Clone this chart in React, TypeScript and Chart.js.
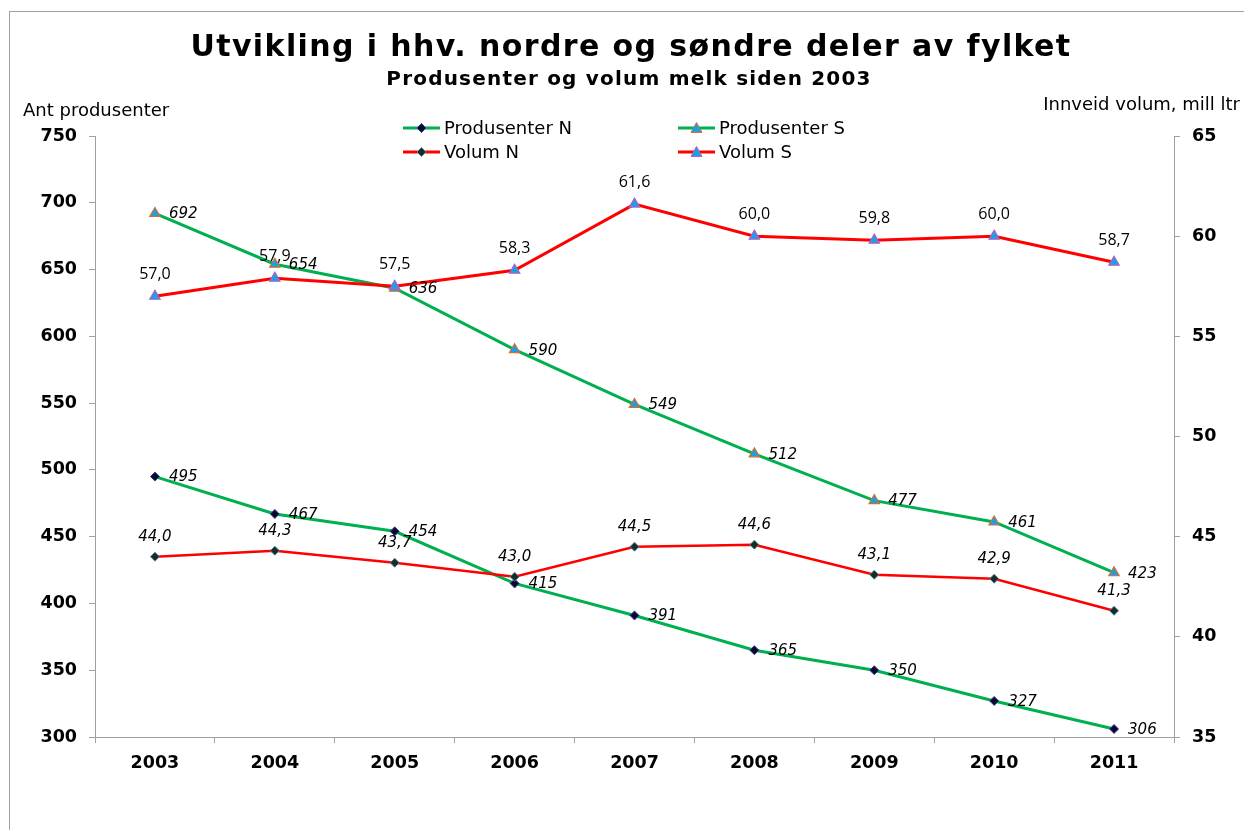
import React, { useEffect, useRef } from "react";
import { Chart, registerables } from "chart.js";

Chart.register(...registerables);

const years = ["2003", "2004", "2005", "2006", "2007", "2008", "2009", "2010", "2011"];
const produsenterN = [495, 467, 454, 415, 391, 365, 350, 327, 306];
const produsenterS = [692, 654, 636, 590, 549, 512, 477, 461, 423];
const volumN = [44.0, 44.3, 43.7, 43.0, 44.5, 44.6, 43.1, 42.9, 41.3];
const volumS = [57.0, 57.9, 57.5, 58.3, 61.6, 60.0, 59.8, 60.0, 58.7];

const TITLE = "Utvikling i hhv. nordre og søndre deler av fylket";
const SUBTITLE = "Produsenter og volum melk siden 2003";
const LEFT_TITLE = "Ant produsenter";
const RIGHT_TITLE = "Innveid volum, mill ltr";

const GREEN = "#00b050";
const RED = "#ff0000";

type Legend = { label: string; color: string; marker: "diamond" | "triangle"; fill: string; border: string };
const legendItems: Legend[] = [
  { label: "Produsenter N", color: GREEN, marker: "diamond", fill: "#08082a", border: "#3a3a9a" },
  { label: "Produsenter S", color: GREEN, marker: "triangle", fill: "#1aa0e8", border: "#d07030" },
  { label: "Volum N", color: RED, marker: "diamond", fill: "#1a2a2a", border: "#4a8a9a" },
  { label: "Volum S", color: RED, marker: "triangle", fill: "#1aa0e8", border: "#b060c0" },
];

const fmt1 = (v: number) => v.toFixed(1).replace(".", ",");

function drawMarker(ctx: CanvasRenderingContext2D, kind: string, x: number, y: number, fill: string, border: string) {
  ctx.beginPath();
  if (kind === "diamond") {
    const r = 4.5;
    ctx.moveTo(x, y - r);
    ctx.lineTo(x + r, y);
    ctx.lineTo(x, y + r);
    ctx.lineTo(x - r, y);
  } else {
    const r = 5.5;
    ctx.moveTo(x, y - r);
    ctx.lineTo(x + r, y + r * 0.8);
    ctx.lineTo(x - r, y + r * 0.8);
  }
  ctx.closePath();
  ctx.fillStyle = fill;
  ctx.fill();
  ctx.lineWidth = 1;
  ctx.strokeStyle = border;
  ctx.stroke();
}

const textPlugin = {
  id: "textPlugin",
  afterDatasetsDraw(chart: any) {
    const ctx: CanvasRenderingContext2D = chart.ctx;
    ctx.save();
    ctx.fillStyle = "#000";
    chart.data.datasets.forEach((ds: any, i: number) => {
      const meta = chart.getDatasetMeta(i);
      meta.data.forEach((pt: any, j: number) => {
        const v = ds.data[j];
        if (ds.labelMode === "right") {
          ctx.font = 'italic 15px "DejaVu Sans"';
          ctx.textAlign = "left";
          ctx.textBaseline = "middle";
          ctx.fillText(String(v), pt.x + 14, pt.y + 1);
        } else if (ds.labelMode === "aboveItalic") {
          ctx.font = 'italic 15px "DejaVu Sans"';
          ctx.textAlign = "center";
          ctx.textBaseline = "middle";
          ctx.fillText(fmt1(v), pt.x, pt.y - 20);
        } else {
          ctx.font = '16px "Open Sans"';
          ctx.textAlign = "center";
          ctx.textBaseline = "middle";
          ctx.fillText(fmt1(v), pt.x, pt.y - 22);
        }
      });
    });
    ctx.restore();
  },
  afterDraw(chart: any) {
    const ctx: any = chart.ctx;
    ctx.save();
    ctx.fillStyle = "#000";
    ctx.textBaseline = "middle";
    ctx.textAlign = "center";
    ctx.font = 'bold 30px "DejaVu Sans"';
    ctx.letterSpacing = "1.4px";
    ctx.fillText(TITLE, 631, 48);
    ctx.font = 'bold 20px "DejaVu Sans"';
    ctx.letterSpacing = "1.2px";
    ctx.fillText(SUBTITLE, 629, 80);
    ctx.letterSpacing = "0px";
    ctx.font = '18px "DejaVu Sans"';
    ctx.textAlign = "left";
    ctx.fillText(LEFT_TITLE, 23, 111);
    ctx.textAlign = "right";
    ctx.fillText(RIGHT_TITLE, 1240, 105);

    // legend (2 columns x 2 rows)
    const colX = [403, 678];
    const rowY = [128, 152];
    legendItems.forEach((it, idx) => {
      const x0 = colX[idx % 2];
      const y = rowY[Math.floor(idx / 2)];
      ctx.beginPath();
      ctx.moveTo(x0, y);
      ctx.lineTo(x0 + 37, y);
      ctx.lineWidth = 3;
      ctx.strokeStyle = it.color;
      ctx.stroke();
      drawMarker(ctx, it.marker, x0 + 18.5, y, it.fill, it.border);
      ctx.fillStyle = "#000";
      ctx.font = '18px "DejaVu Sans"';
      ctx.textAlign = "left";
      ctx.textBaseline = "middle";
      ctx.fillText(it.label, x0 + 41, y + 1);
    });
    ctx.restore();
  },
};

export default function App() {
  const ref = useRef<HTMLCanvasElement | null>(null);
  useEffect(() => {
    if (!ref.current) return;
    const axisGray = "#a0a0a0";
    const tickFont = { family: "DejaVu Sans", size: 17.5, weight: "bold" as const };
    const chart = new Chart(ref.current, {
      type: "line",
      data: {
        labels: years,
        datasets: [
          {
            label: "Produsenter N",
            data: produsenterN,
            yAxisID: "y",
            borderColor: GREEN,
            borderWidth: 3,
            pointStyle: "rectRot",
            pointRadius: 4.5,
            pointBackgroundColor: legendItems[0].fill,
            pointBorderColor: legendItems[0].border,
            pointBorderWidth: 1,
            labelMode: "right",
            order: 4,
          } as any,
          {
            label: "Produsenter S",
            data: produsenterS,
            yAxisID: "y",
            borderColor: GREEN,
            borderWidth: 3,
            pointStyle: "triangle",
            pointRadius: 6,
            pointBackgroundColor: legendItems[1].fill,
            pointBorderColor: legendItems[1].border,
            pointBorderWidth: 1.2,
            labelMode: "right",
            order: 3,
          } as any,
          {
            label: "Volum N",
            data: volumN,
            yAxisID: "y1",
            borderColor: RED,
            borderWidth: 2.5,
            pointStyle: "rectRot",
            pointRadius: 4.5,
            pointBackgroundColor: legendItems[2].fill,
            pointBorderColor: legendItems[2].border,
            pointBorderWidth: 1,
            labelMode: "aboveItalic",
            order: 2,
          } as any,
          {
            label: "Volum S",
            data: volumS,
            yAxisID: "y1",
            borderColor: RED,
            borderWidth: 3,
            pointStyle: "triangle",
            pointRadius: 6,
            pointBackgroundColor: legendItems[3].fill,
            pointBorderColor: legendItems[3].border,
            pointBorderWidth: 1.2,
            labelMode: "above",
            order: 1,
          } as any,
        ],
      },
      options: {
        responsive: false,
        animation: false,
        layout: { padding: { top: 136, left: 0, right: 0, bottom: 0 } },
        plugins: {
          legend: { display: false },
          tooltip: { enabled: false },
          title: { display: false },
        },
        scales: {
          x: {
            offset: true,
            grid: { display: true, offset: true, drawOnChartArea: false, drawTicks: true, tickLength: 6, color: axisGray },
            border: { display: true, color: axisGray, width: 1 },
            ticks: { color: "#000", font: tickFont, padding: 10, maxRotation: 0 },
            afterFit: (s: any) => {
              s.height = 93;
            },
          },
          y: {
            position: "left",
            min: 300,
            max: 750,
            grid: { display: true, drawOnChartArea: false, drawTicks: true, tickLength: 6, color: axisGray },
            border: { display: true, color: axisGray, width: 1 },
            ticks: { stepSize: 50, color: "#000", font: tickFont, padding: 12 },
            afterFit: (s: any) => {
              s.width = 95;
            },
          },
          y1: {
            position: "right",
            min: 35,
            max: 65,
            grid: { display: true, drawOnChartArea: false, drawTicks: true, tickLength: 6, color: axisGray },
            border: { display: true, color: axisGray, width: 1 },
            ticks: { stepSize: 5, color: "#000", font: tickFont, padding: 12 },
            afterFit: (s: any) => {
              s.width = 70;
            },
          },
        },
      } as any,
      plugins: [textPlugin],
    });
    return () => chart.destroy();
  }, []);

  return (
    <div style={{ position: "fixed", left: 0, top: 0, width: 1244, height: 830, overflow: "hidden", background: "#fff" }}>
      <div
        style={{
          position: "absolute",
          left: 9,
          top: 11,
          width: 1300,
          height: 900,
          border: "1px solid #a0a0a0",
          boxSizing: "border-box",
        }}
      />
      <canvas ref={ref} width={1244} height={830} style={{ position: "absolute", left: 0, top: 0, width: 1244, height: 830 }} />
    </div>
  );
}
